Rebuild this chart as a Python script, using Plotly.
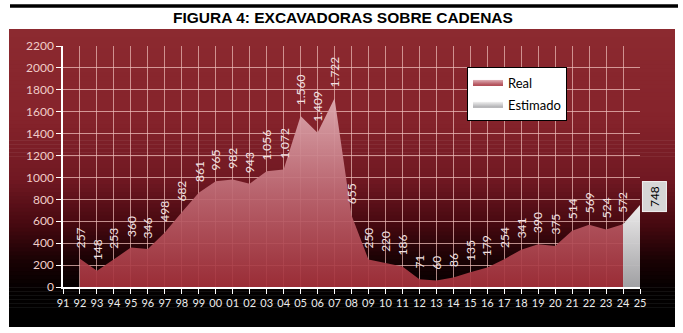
import plotly.graph_objects as go

years = ["91", "92", "93", "94", "95", "96", "97", "98", "99", "00", "01", "02",
         "03", "04", "05", "06", "07", "08", "09", "10", "11", "12", "13", "14",
         "15", "16", "17", "18", "19", "20", "21", "22", "23", "24", "25"]
real_years = years[1:34]
real_values = [257, 148, 253, 360, 346, 498, 682, 861, 965, 982, 943, 1056, 1072,
               1560, 1409, 1722, 655, 250, 220, 186, 71, 60, 86, 135, 179, 254,
               341, 390, 375, 514, 569, 524, 572]
est_years = ["24", "25"]
est_values = [572, 748]
y_ticks = [0, 200, 400, 600, 800, 1000, 1200, 1400, 1600, 1800, 2000, 2200]
title_text = "FIGURA 4: EXCAVADORAS SOBRE CADENAS"

W, H = 683, 333
ML, MR, MT, MB = 63, 43, 46, 46
PW = W - ML - MR
PH = H - MT - MB


def px_x(x):
    return (x - ML) / PW


def px_y(y):
    return (H - MB - y) / PH


fig = go.Figure()

fig.add_trace(go.Scatter(
    x=real_years, y=real_values, name="Real", mode="none", fill="tozeroy",
    fillgradient=dict(type="vertical", start=0, stop=1722,
                      colorscale=[[0, "rgba(165,48,58,0.93)"],
                                  [0.5, "rgba(190,105,115,0.93)"],
                                  [1, "rgba(222,172,178,0.95)"]]),
    legendgroup="a", hoverinfo="skip"))
fig.add_trace(go.Scatter(
    x=est_years, y=est_values, name="Estimado", mode="none", fill="tozeroy",
    fillgradient=dict(type="vertical", start=0, stop=748,
                      colorscale=[[0, "rgba(165,165,168,0.97)"],
                                  [1, "rgba(240,240,240,0.98)"]]),
    legendgroup="b", hoverinfo="skip"))

shapes = []
# chart area gradient background
stops = [(29, (140, 42, 48)), (120, (133, 35, 43)), (180, (112, 24, 34)),
         (225, (70, 9, 16)), (260, (26, 2, 4)), (290, (3, 0, 0)), (327, (0, 0, 0))]


def col_at(y):
    for (y0, c0), (y1, c1) in zip(stops[:-1], stops[1:]):
        if y0 <= y <= y1:
            t = (y - y0) / (y1 - y0)
            return tuple(round(c0[i] + (c1[i] - c0[i]) * t) for i in range(3))
    return stops[-1][1]


top, bot, left, right = 29, 327, 9, 675
n = 75
step = (bot - top) / n
for i in range(n):
    y0 = top + i * step
    y1 = y0 + step + 0.6
    c = col_at(y0 + step / 2)
    shapes.append(dict(type="rect", xref="paper", yref="paper", layer="below",
                       x0=px_x(left), x1=px_x(right), y0=px_y(min(y1, bot)), y1=px_y(y0),
                       line=dict(width=0), fillcolor="rgb(%d,%d,%d)" % c))
# thick black line above title
shapes.append(dict(type="line", xref="paper", yref="paper",
                   x0=px_x(10), x1=px_x(678), y0=px_y(6), y1=px_y(6),
                   line=dict(color="black", width=3.5)))

annotations = [dict(text="<b>" + title_text + "</b>", xref="paper", yref="paper",
                    x=px_x(343), y=px_y(18), xanchor="center", yanchor="middle",
                    showarrow=False,
                    font=dict(family="Liberation Sans, Arial, sans-serif",
                              size=15.5, color="black"))]


def fmt(v):
    return f"{v:,}".replace(",", ".")


for xv, yv in zip(real_years, real_values):
    annotations.append(dict(text=fmt(yv), x=years.index(xv), y=yv, xref="x", yref="y",
                            textangle=-90, showarrow=False, yanchor="bottom",
                            xanchor="center", yshift=9,
                            font=dict(family="Lato, sans-serif", size=12,
                                      color="#f2e2e2")))
annotations.append(dict(text=fmt(est_values[-1]), x=years.index(est_years[-1]),
                        y=est_values[-1],
                        xref="x", yref="y", textangle=-90, showarrow=False,
                        xanchor="center", yanchor="middle", xshift=14, yshift=8,
                        bgcolor="#d6d6d6", bordercolor="#f4f4f4", borderwidth=1,
                        borderpad=4,
                        font=dict(family="Lato, sans-serif", size=12, color="black")))

fig.update_layout(
    width=W, height=H,
    margin=dict(l=ML, r=MR, t=MT, b=MB, pad=0),
    paper_bgcolor="white", plot_bgcolor="rgba(0,0,0,0)",
    shapes=shapes, annotations=annotations,
    showlegend=True,
    legend=dict(x=px_x(467), y=px_y(67), xanchor="left", yanchor="top",
                bgcolor="white", bordercolor="black", borderwidth=1,
                font=dict(family="Lato, sans-serif", size=13, color="black"),
                tracegroupgap=2, itemwidth=30),
    xaxis=dict(type="category", categoryorder="array", categoryarray=years,
               range=[0, len(years) - 1],
               tickmode="array", tickvals=years, ticktext=years,
               showgrid=True, gridcolor="rgba(238,190,185,0.7)", gridwidth=1,
               showline=True, linecolor="white", linewidth=1.5,
               ticks="outside", ticklen=5, tickcolor="white",
               tickfont=dict(family="Lato, sans-serif", size=11, color="#ececec"),
               fixedrange=True, zeroline=False),
    yaxis=dict(range=[0, 2200], tickvals=y_ticks,
               showgrid=True, gridcolor="rgba(238,190,185,0.75)", gridwidth=1,
               showline=True, linecolor="white", linewidth=1.5,
               ticks="outside", ticklen=5, tickcolor="white",
               tickfont=dict(family="Lato, sans-serif", size=12, color="#f0cdc8"),
               zeroline=False, fixedrange=True),
)

fig.write_html("out.html")
